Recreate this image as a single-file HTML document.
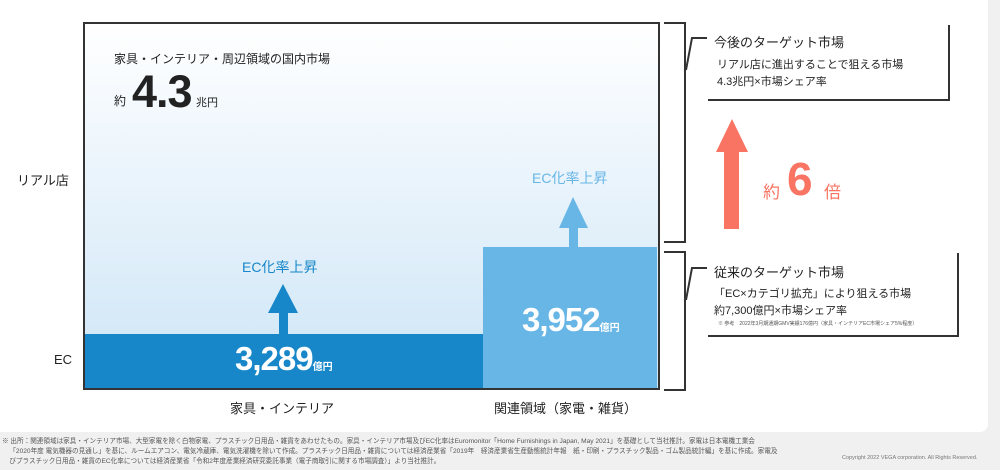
<!DOCTYPE html>
<html><head><meta charset="utf-8"><style>
body{margin:0;width:1000px;height:470px;background:#f0f0f0;position:relative;overflow:hidden;font-family:"Liberation Sans","Noto Sans CJK JP",sans-serif;color:#222}
.a{position:absolute;white-space:nowrap}
</style></head><body>
<div class="a" style="left:0;top:0;width:988px;height:432px;background:#fff;border-bottom-right-radius:8px"></div>
<div class="a" style="left:83px;top:22px;width:573px;height:364px;border:2px solid #333;background:linear-gradient(#fff,#e6f2fb 50%,#cde5f6)"></div>
<div class="a" style="left:85px;top:334px;width:398px;height:54px;background:#1787c9"></div>
<div class="a" style="left:483px;top:247px;width:174px;height:141px;background:#68b6e6"></div>
<svg class="a" style="left:0;top:0" width="1000" height="470">
<polygon points="283,284 298,313 288,313 288,334 279,334 279,313 268,313" fill="#1787c9"/>
<polygon points="573,197 588,228 578,228 578,247 569,247 569,228 559,228" fill="#68b6e6"/>
<polygon points="732,119 748,152 739,152 739,229 724,229 724,152 716,152" fill="#f97462"/>
<g stroke="#333" stroke-width="2" fill="none">
<polyline points="664,23 685,23 685,242 664,242"/>
<polyline points="664,252 685,252 685,390 664,390"/>
<polyline points="686,70 692,38 707,38"/>
<polyline points="686,300 692,268 707,268"/>
<polyline points="708,100 949,100 949,25"/>
<polyline points="708,336 958,336 958,253"/>
</g>
</svg>
<div class="a" style="left:114px;top:50px;font-size:12px">家具・インテリア・周辺領域の国内市場</div>
<div class="a" style="left:114px;top:92px;font-size:12px">約</div>
<div class="a" style="left:132px;top:66px;font-size:45px;font-weight:bold;color:#222;letter-spacing:-1px">4.3</div>
<div class="a" style="left:196px;top:94px;font-size:11px">兆円</div>
<div class="a" style="left:17px;top:170px;font-size:13px">リアル店</div>
<div class="a" style="left:54px;top:352px;font-size:13px">EC</div>
<div class="a" style="left:242px;top:257px;font-size:14px;color:#1787c9">EC化率上昇</div>
<div class="a" style="left:532px;top:168px;font-size:14px;color:#68b6e6">EC化率上昇</div>
<div class="a" style="left:235px;top:340px;font-size:33px;font-weight:bold;color:#fff;letter-spacing:-1px">3,289<span style="font-size:10px;letter-spacing:0">億円</span></div>
<div class="a" style="left:522px;top:301px;font-size:33px;font-weight:bold;color:#fff;letter-spacing:-1px">3,952<span style="font-size:10px;letter-spacing:0">億円</span></div>
<div class="a" style="left:230px;top:398px;font-size:13px">家具・インテリア</div>
<div class="a" style="left:494px;top:398px;font-size:13px">関連領域（家電・雑貨）</div>
<div class="a" style="left:714px;top:32px;font-size:13px">今後のターゲット市場</div>
<div class="a" style="left:717px;top:56px;font-size:11px">リアル店に進出することで狙える市場</div>
<div class="a" style="left:717px;top:73px;font-size:11px">4.3兆円×市場シェア率</div>
<div class="a" style="left:714px;top:262px;font-size:13px">従来のターゲット市場</div>
<div class="a" style="left:714px;top:285px;font-size:11px">「EC×カテゴリ拡充」により狙える市場</div>
<div class="a" style="left:714px;top:302px;font-size:11px">約7,300億円×市場シェア率</div>
<div class="a" style="left:718px;top:320px;font-size:5px;color:#555">※ 参考　2022年3月期通期GMV実績176億円（家具・インテリアEC市場シェア5%程度）</div>
<div class="a" style="left:763px;top:178px;font-size:17px;color:#f97462">約</div>
<div class="a" style="left:787px;top:152px;font-size:46px;font-weight:bold;color:#f97462">6</div>
<div class="a" style="left:824px;top:178px;font-size:17px;color:#f97462">倍</div>
<div class="a" style="left:2px;top:437px;font-size:6.6px;color:#555;line-height:10px">※ 出所：関連領域は家具・インテリア市場、大型家電を除く白物家電、プラスチック日用品・雑貨をあわせたもの。家具・インテリア市場及びEC化率はEuromonitor「Home Furnishings in Japan, May 2021」を基礎として当社推計。家電は日本電機工業会<br>&nbsp;&nbsp;&nbsp;&nbsp;「2020年度 電気機器の見通し」を基に、ルームエアコン、電気冷蔵庫、電気洗濯機を除いて作成。プラスチック日用品・雑貨については経済産業省「2019年　経済産業省生産動態統計年報　紙・印刷・プラスチック製品・ゴム製品統計編」を基に作成。家電及<br>&nbsp;&nbsp;&nbsp;&nbsp;びプラスチック日用品・雑貨のEC化率については経済産業省「令和2年度産業経済研究委託事業（電子商取引に関する市場調査）」より当社推計。</div>
<div class="a" style="left:842px;top:455px;font-size:5.5px;color:#777">Copyright 2022 VEGA corporation. All Rights Reserved.</div>
</body></html>
